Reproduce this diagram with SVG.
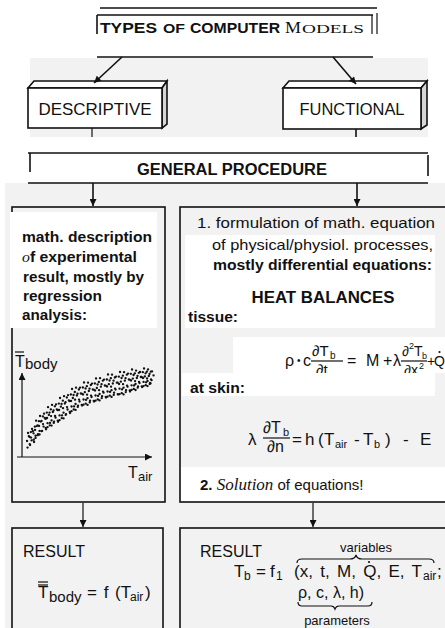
<svg xmlns="http://www.w3.org/2000/svg" width="445" height="628" viewBox="0 0 445 628">
<defs>
<style>
text{font-family:"Liberation Sans",Arial,sans-serif;fill:#111}
.b{font-weight:bold}
.sf{font-family:"Liberation Serif","Times New Roman",serif}
.ln{stroke:#111;stroke-width:1.6;fill:none}
.thin{stroke:#111;stroke-width:1.2;fill:none}
.bx{stroke:#111;stroke-width:1.6}
.bg{fill:#f2f2f2}
.wp{fill:#fff}
.dots{stroke:#111;stroke-width:2.3;stroke-linecap:round;fill:none}
</style>
<marker id="ah" markerUnits="userSpaceOnUse" viewBox="0 0 10 10" refX="10" refY="5" markerWidth="8" markerHeight="7" orient="auto"><path d="M0 0L10 5L0 10z" fill="#111"/></marker>
<clipPath id="eqclip"><rect x="180" y="330" width="265" height="43"/></clipPath>
</defs>

<rect width="445" height="628" fill="#fff"/>
<rect class="bg" x="30" y="58" width="398" height="79"/>
<rect class="bg" x="5" y="183" width="440" height="445"/>

<g id="title">
<line x1="100" y1="8" x2="377" y2="8" class="ln"/>
<line x1="97" y1="15" x2="373" y2="15" class="ln"/>
<line x1="97" y1="15" x2="97" y2="34" class="ln"/>
<line x1="372" y1="15" x2="372" y2="34" class="thin"/>
<line x1="377" y1="13" x2="377" y2="34" class="thin"/>
<line x1="97" y1="57" x2="373" y2="57" class="ln"/>
<text x="100" y="33" class="b" font-size="15" textLength="57" lengthAdjust="spacingAndGlyphs">TYPES</text>
<text x="163" y="33" class="b" font-size="12" textLength="22" lengthAdjust="spacingAndGlyphs">OF</text>
<text x="190" y="33" class="b" font-size="15" textLength="90" lengthAdjust="spacingAndGlyphs">COMPUTER</text>
<text x="285" y="33" class="sf" font-size="16" textLength="16" lengthAdjust="spacingAndGlyphs">M</text>
<text x="302" y="33" class="sf" font-size="13" textLength="62" lengthAdjust="spacingAndGlyphs">ODELS</text>
</g>

<g id="descriptive">
<path d="M28 88L34 81H167L162 88Z" fill="#fff" class="bx"/>
<path d="M162 88L167 81V124L162 128Z" fill="#d6d6d6" class="bx"/>
<rect x="28" y="88" width="134" height="40" fill="#fff" class="bx"/>
<text x="95" y="115" font-size="17" text-anchor="middle" textLength="113" lengthAdjust="spacingAndGlyphs">DESCRIPTIVE</text>
</g>

<g id="functional">
<path d="M283 88L289 81H427L421 88Z" fill="#fff" class="bx"/>
<path d="M421 88L427 81V125L421 129Z" fill="#d6d6d6" class="bx"/>
<rect x="283" y="88" width="138" height="41" fill="#fff" class="bx"/>
<text x="352" y="115" font-size="17" text-anchor="middle" textLength="105" lengthAdjust="spacingAndGlyphs">FUNCTIONAL</text>
</g>

<g id="general-procedure">
<line x1="28" y1="153" x2="428" y2="153" class="ln"/>
<line x1="28" y1="183" x2="428" y2="183" class="ln"/>
<line x1="30" y1="153" x2="30" y2="172" class="ln"/>
<line x1="428" y1="155" x2="428" y2="176" class="ln"/>
<text x="232" y="175" class="b" font-size="16" text-anchor="middle" textLength="190" lengthAdjust="spacingAndGlyphs">GENERAL PROCEDURE</text>
</g>

<g id="descriptive-method">
<rect x="12" y="207" width="153" height="295" fill="none" class="bx"/>
<rect class="wp" x="10" y="212" width="147" height="116"/>
<text x="22" y="242" class="b" font-size="14" textLength="130" lengthAdjust="spacingAndGlyphs">math. description</text>
<text x="22" y="262" class="b" font-size="14" textLength="115" lengthAdjust="spacingAndGlyphs"><tspan class="sf" font-style="italic" font-weight="normal">o</tspan>f experimental</text>
<text x="23" y="282" class="b" font-size="14" textLength="121" lengthAdjust="spacingAndGlyphs">result, mostly by</text>
<text x="23" y="301" class="b" font-size="14" textLength="79" lengthAdjust="spacingAndGlyphs">regression</text>
<text x="22" y="320" class="b" font-size="14" textLength="65" lengthAdjust="spacingAndGlyphs">analysis:</text>
<line x1="22" y1="457" x2="22" y2="373" class="thin" marker-end="url(#ah)"/>
<line x1="17" y1="457" x2="152" y2="457" class="thin" marker-end="url(#ah)"/>
<line x1="15" y1="352" x2="24" y2="352" class="thin"/>
<text x="15" y="367" font-size="16">T</text>
<text x="25" y="369" font-size="15">body</text>
<text x="128" y="478" font-size="16">T</text>
<text x="138" y="481" font-size="13">air</text>
<path class="dots" d="M28 433h.1M29.5 437h.1M27 441h.1M30 445h.1M27.5 447.6h.1M32 429h.1M33.5 433.3h.1M31 437.6h.1M34 442h.1M36 420.7h.1M37.5 425.4h.1M35 430h.1M38 434.2h.1M35.5 437.9h.1M40 416h.1M41.5 421h.1M39 426h.1M42 431h.1M39.5 434.5h.1M44 413.7h.1M45.5 418.9h.1M43 424.1h.1M46 429.3h.1M48 407.2h.1M49.5 412.6h.1M47 418h.1M50 422.9h.1M47.5 427.2h.1M52 404.9h.1M53.5 410.5h.1M51 416.1h.1M54 421.7h.1M51.5 425.6h.1M56 404.4h.1M57.5 410.2h.1M55 416h.1M58 421.8h.1M60 398h.1M61.5 404h.1M59 410h.1M62 415.4h.1M59.5 420.2h.1M64 396.2h.1M65.5 402.2h.1M63 408.2h.1M66 414.2h.1M63.5 418.4h.1M68 395.1h.1M69.5 401.1h.1M67 407.1h.1M70 413.1h.1M72 389h.1M73.5 395h.1M71 401h.1M74 406.4h.1M71.5 411.2h.1M76 387.7h.1M77.5 393.7h.1M75 399.7h.1M78 405.7h.1M75.5 409.9h.1M80 387.6h.1M81.5 393.6h.1M79 399.6h.1M82 405.6h.1M84 382.5h.1M85.5 388.5h.1M83 394.5h.1M86 399.9h.1M83.5 404.7h.1M88 382.7h.1M89.5 388.7h.1M87 394.7h.1M90 400.7h.1M87.5 404.9h.1M92 383.6h.1M93.5 389.6h.1M91 395.6h.1M94 401.6h.1M96 378.5h.1M97.5 384.5h.1M95 390.5h.1M98 395.9h.1M95.5 400.7h.1M100 378.2h.1M101.5 384.2h.1M99 390.2h.1M102 396.2h.1M99.5 400.4h.1M104 379.6h.1M105.5 385.6h.1M103 391.6h.1M106 397.6h.1M108 374.5h.1M109.5 380.5h.1M107 386.5h.1M110 391.9h.1M107.5 396.7h.1M112 374.7h.1M113.5 380.7h.1M111 386.7h.1M114 392.7h.1M111.5 396.9h.1M116 376.6h.1M117.5 382.6h.1M115 388.6h.1M118 394.6h.1M120 372h.1M121.5 378h.1M119 384h.1M122 389.4h.1M119.5 394.2h.1M124 372.2h.1M125.5 378.2h.1M123 384.2h.1M126 390.2h.1M123.5 394.4h.1M128 373.6h.1M129.5 379.6h.1M127 385.6h.1M130 391.6h.1M132 369.5h.1M133.5 375h.1M131 380.5h.1M134 385.5h.1M131.5 389.9h.1M136 370.6h.1M137.5 375.8h.1M135 381.1h.1M138 386.3h.1M135.5 390h.1M140 372h.1M141.5 377h.1M139 382h.1M142 387h.1M144 368.5h.1M145.5 373.3h.1M143 378h.1M146 382.3h.1M143.5 386.1h.1M148 369.4h.1M149.5 373.9h.1M147 378.4h.1M150 382.9h.1M147.5 386.1h.1M152 371.4h.1M153.5 375.4h.1M151 379.4h.1M150.5 383.4h.1
M30.8 432.1h.1M28.8 436.2h.1M31.5 440.4h.1M29.7 444.2h.1M34.8 426.7h.1M32.8 431.2h.1M35.5 435.7h.1M33.7 439.7h.1M38.8 421.2h.1M36.8 426.1h.1M39.5 430.9h.1M37.7 435.2h.1M42.8 416.4h.1M40.8 421.5h.1M43.5 426.6h.1M41.7 431.2h.1M46.8 412.6h.1M44.8 417.9h.1M47.5 423.2h.1M45.7 428h.1M50.8 409.4h.1M48.8 414.9h.1M51.5 420.4h.1M49.7 425.3h.1M54.8 406.3h.1M52.8 412h.1M55.5 417.7h.1M53.7 422.9h.1M58.8 403.6h.1M56.8 409.5h.1M59.5 415.4h.1M57.7 420.7h.1M62.8 400.7h.1M60.8 406.7h.1M63.5 412.7h.1M61.7 418.1h.1M66.8 397.5h.1M64.8 403.5h.1M67.5 409.5h.1M65.7 414.9h.1M70.8 394.5h.1M68.8 400.5h.1M71.5 406.5h.1M69.7 411.9h.1M74.8 392h.1M72.8 398h.1M75.5 404h.1M73.7 409.4h.1M78.8 389.5h.1M76.8 395.5h.1M79.5 401.5h.1M77.7 406.9h.1M82.8 387.5h.1M80.8 393.5h.1M83.5 399.5h.1M81.7 404.9h.1M86.8 386.2h.1M84.8 392.2h.1M87.5 398.2h.1M85.7 403.6h.1M90.8 385h.1M88.8 391h.1M91.5 397h.1M89.7 402.4h.1M94.8 383.5h.1M92.8 389.5h.1M95.5 395.5h.1M93.7 400.9h.1M98.8 382h.1M96.8 388h.1M99.5 394h.1M97.7 399.4h.1M102.8 380.7h.1M100.8 386.7h.1M103.5 392.7h.1M101.7 398.1h.1M106.8 379.5h.1M104.8 385.5h.1M107.5 391.5h.1M105.7 396.9h.1M110.8 378.2h.1M108.8 384.2h.1M111.5 390.2h.1M109.7 395.6h.1M114.8 377.5h.1M112.8 383.5h.1M115.5 389.5h.1M113.7 394.9h.1M118.8 376.7h.1M116.8 382.7h.1M119.5 388.7h.1M117.7 394.1h.1M122.8 375.7h.1M120.8 381.7h.1M123.5 387.7h.1M121.7 393.1h.1M126.8 374.7h.1M124.8 380.7h.1M127.5 386.7h.1M125.7 392.1h.1M130.8 373.8h.1M128.8 379.5h.1M131.5 385.3h.1M129.7 390.5h.1M134.8 373.3h.1M132.8 378.6h.1M135.5 384h.1M133.7 388.9h.1M138.8 372.8h.1M136.8 378h.1M139.5 383.1h.1M137.7 387.7h.1M142.8 372.2h.1M140.8 377h.1M143.5 381.9h.1M141.7 386.3h.1M146.8 371.7h.1M144.8 376.4h.1M147.5 381h.1M145.7 385.2h.1M150.8 371.7h.1M148.8 376h.1M151.5 380.2h.1M149.7 384h.1"/>
</g>

<g id="functional-method">
<rect class="wp" x="185" y="235" width="250" height="93"/>
<rect class="wp" x="233" y="337" width="212" height="36"/>
<rect class="wp" x="182" y="373" width="253" height="23"/>
<rect class="wp" x="181" y="467" width="264" height="35"/>
<rect x="180" y="207" width="270" height="295" fill="none" class="bx"/>
<text x="197" y="228" font-size="15" textLength="238" lengthAdjust="spacingAndGlyphs">1. formulation of math. equation</text>
<text x="212" y="250" font-size="15" textLength="221" lengthAdjust="spacingAndGlyphs">of physical/physiol. processes,</text>
<text x="213" y="270" class="b" font-size="14" textLength="219" lengthAdjust="spacingAndGlyphs">mostly differential equations:</text>
<text x="323" y="303" class="b" font-size="16" text-anchor="middle" textLength="143" lengthAdjust="spacingAndGlyphs">HEAT BALANCES</text>
<text x="188" y="322" class="b" font-size="14" textLength="50" lengthAdjust="spacingAndGlyphs">tissue:</text>
<g clip-path="url(#eqclip)" font-size="16">
<text x="285" y="366">ρ</text>
<text x="297" y="364" font-size="10">•</text>
<text x="303" y="366">c</text>
<text x="312" y="356" font-size="15">∂T</text>
<text x="330" y="359" font-size="10">b</text>
<line x1="311" y1="361" x2="343" y2="361" class="thin"/>
<text x="316" y="375" font-size="15">∂t</text>
<text x="347" y="366">=</text>
<text x="366" y="366">M</text>
<text x="383" y="366">+</text>
<text x="393" y="366">λ</text>
<text x="402" y="356" font-size="14">∂</text>
<text x="409" y="349" font-size="9">2</text>
<text x="414" y="356" font-size="14">T</text>
<text x="422" y="359" font-size="9">b</text>
<line x1="401" y1="361" x2="427" y2="361" class="thin"/>
<text x="404" y="375" font-size="14">∂x</text>
<text x="419" y="369" font-size="9">2</text>
<text x="427" y="366" font-size="14">+</text>
<text x="434" y="366" font-size="14">Q</text>
<circle cx="439.5" cy="352" r="1.1" fill="#111"/>
</g>
<text x="190" y="393" class="b" font-size="14" textLength="55" lengthAdjust="spacingAndGlyphs">at skin:</text>
<g font-size="17">
<text x="248" y="445">λ</text>
<text x="263" y="433" font-size="16">∂T</text>
<text x="283" y="436" font-size="11">b</text>
<line x1="263" y1="438" x2="290" y2="438" class="thin"/>
<text x="267" y="452" font-size="16">∂n</text>
<text x="292" y="445">=</text>
<text x="305" y="445">h</text>
<text x="318" y="445">(</text>
<text x="324" y="445">T</text>
<text x="335" y="448" font-size="11">air</text>
<text x="354" y="445">-</text>
<text x="363" y="445">T</text>
<text x="374" y="448" font-size="11">b</text>
<text x="385" y="445">)</text>
<text x="403" y="445">-</text>
<text x="420" y="445">E</text>
</g>
<text x="200" y="490" class="b" font-size="15">2. <tspan class="sf" font-style="italic" font-weight="normal" font-size="17">Solution</tspan><tspan font-weight="normal"> of equations!</tspan></text>
</g>

<g id="result-descriptive">
<rect x="12" y="528" width="151" height="110" fill="none" class="bx"/>
<text x="23" y="557" font-size="16">RESULT</text>
<line x1="38" y1="582" x2="48" y2="582" class="thin"/>
<line x1="38" y1="585" x2="48" y2="585" class="thin"/>
<text x="38" y="598" font-size="17">T</text>
<text x="49" y="602" font-size="15">body</text>
<text x="87" y="598" font-size="17" word-spacing="2">= f (T</text>
<text x="130" y="601" font-size="12">air</text>
<text x="145" y="598" font-size="17">)</text>
</g>

<g id="result-functional">
<rect x="180" y="528" width="270" height="110" fill="none" class="bx"/>
<text x="200" y="557" font-size="16">RESULT</text>
<text x="366" y="552" font-size="13" text-anchor="middle">variables</text>
<path d="M297 563Q297 559 302 559L350 559Q355 559 356 555Q357 559 362 559L429 559Q434 559 434 563" class="thin" stroke-width="1.6"/>
<text x="234" y="577" font-size="17">T</text>
<text x="244" y="580" font-size="12">b</text>
<text x="256" y="577" font-size="17">=</text>
<text x="270" y="577" font-size="17">f</text>
<text x="276" y="580" font-size="12">1</text>
<text x="294" y="577" font-size="17" word-spacing="2.6">(x, t, M, Q, E, T</text>
<text x="423" y="580" font-size="12">air</text>
<text x="437" y="577" font-size="17">;</text>
<circle cx="369" cy="562" r="1.1" fill="#111"/>
<text x="298" y="598" font-size="16">ρ, c, λ, h)</text>
<path d="M298 602Q298 606 302 606L331 606Q334 606 335 609Q336 606 339 606L368 606Q372 606 372 602" class="thin" stroke-width="1.6"/>
<text x="337" y="625" font-size="13" text-anchor="middle">parameters</text>
</g>

<g id="connectors">
<line x1="122" y1="57" x2="94" y2="83" class="ln" marker-end="url(#ah)"/>
<line x1="333" y1="57" x2="356" y2="84" class="ln" marker-end="url(#ah)"/>
<line x1="92" y1="128" x2="92" y2="137" class="thin"/>
<line x1="356" y1="129" x2="356" y2="137" class="ln"/>
<line x1="93" y1="183" x2="93" y2="206" class="ln" marker-end="url(#ah)"/>
<line x1="357" y1="183" x2="357" y2="206" class="ln" marker-end="url(#ah)"/>
<line x1="83" y1="503" x2="83" y2="527" class="thin" marker-end="url(#ah)"/>
<line x1="313" y1="503" x2="313" y2="527" class="thin" marker-end="url(#ah)"/>
</g>
</svg>
